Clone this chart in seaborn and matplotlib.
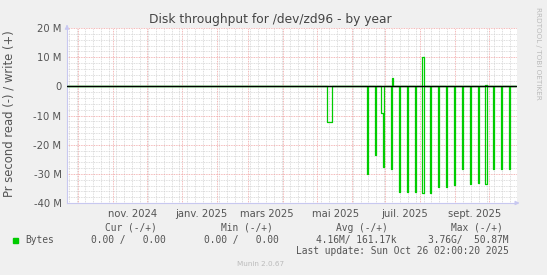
import matplotlib
matplotlib.use("Agg")
import matplotlib.pyplot as plt
import matplotlib.dates as mdates
from matplotlib.ticker import FixedLocator, MultipleLocator, NullFormatter
import seaborn as sns
import pandas as pd
import numpy as np

# ---------------- data (values in MB/s) ----------------
read_dates = ["2025-05-10", "2025-05-11", "2025-05-12", "2025-05-13", "2025-05-14",
              "2025-06-15", "2025-06-22", "2025-06-27", "2025-06-28", "2025-06-29",
              "2025-07-06", "2025-07-13", "2025-07-20", "2025-07-27", "2025-08-03",
              "2025-08-10", "2025-08-17", "2025-08-24", "2025-08-31", "2025-09-07",
              "2025-09-14", "2025-09-21", "2025-09-28", "2025-10-05", "2025-10-12",
              "2025-10-19"]
read_values = [12.3, 12.3, 12.3, 12.3, 12.3,
               30.2, 23.6, 9.3, 9.3, 27.6,
               28.5, 36.1, 36.1, 36.1, 36.5,
               36.7, 34.4, 34.4, 33.8, 28.5,
               33.4, 33.0, 33.4, 28.5, 28.5,
               28.5]
write_dates = ["2025-07-07", "2025-08-03", "2025-09-28"]
write_values = [2.7, 9.9, 0.4]

series_start = "2024-09-21"
series_end = "2025-10-25"
x_start = "2024-09-21 02:00"
x_end = "2025-10-26 02:00"

ytick_values = [-40, -30, -20, -10, 0, 10, 20]
ytick_labels = ["-40 M", "-30 M", "-20 M", "-10 M", "0", "10 M", "20 M"]
month_label_dates = ["2024-11-18", "2025-01-18", "2025-03-18", "2025-05-18",
                     "2025-07-18", "2025-09-18"]
month_labels = ["nov. 2024", "janv. 2025", "mars 2025", "mai 2025",
                "juil. 2025", "sept. 2025"]

title = "Disk throughput for /dev/zd96 - by year"
ylabel = "Pr second read (-) / write (+)"
legend_name = "Bytes"
legend_headers = ["Cur (-/+)", "Min (-/+)", "Avg (-/+)", "Max (-/+)"]
legend_values = ["0.00 /   0.00", "0.00 /   0.00", "4.16M/ 161.17k", "3.76G/  50.87M"]
last_update = "Last update: Sun Oct 26 02:00:20 2025"
footer = "Munin 2.0.67"
side_text = "RRDTOOL / TOBI OETIKER"

# ---------------- build daily frame ----------------
days = pd.date_range(series_start, series_end, freq="D")
df = pd.DataFrame({"date": days, "read": 0.0, "write": 0.0}).set_index("date")
df.loc[pd.to_datetime(read_dates), "read"] = read_values
df.loc[pd.to_datetime(write_dates), "write"] = write_values
df = df.reset_index()
df["neg_read"] = -df["read"] * 1e6
df["pos_write"] = df["write"] * 1e6

# ---------------- figure ----------------
sns.set_theme(style="white")
plt.rcParams["font.family"] = ["DejaVu Sans"]

W, H = 547, 275
fig = plt.figure(figsize=(W / 100, H / 100), dpi=100, facecolor="#F0F0F0")
ax = fig.add_axes([67 / W, 1 - 203 / H, 450 / W, 175 / H])
ax.set_facecolor("white")

green = "#00CC00"
sns.lineplot(data=df, x="date", y="neg_read", ax=ax, color=green, lw=0.9,
             drawstyle="steps-post", zorder=3)
sns.lineplot(data=df, x="date", y="pos_write", ax=ax, color=green, lw=0.9,
             drawstyle="steps-post", zorder=3)
ax.axhline(0, color="black", lw=1.0, zorder=4)

ax.set_xlim(pd.Timestamp(x_start), pd.Timestamp(x_end))
ax.set_ylim(-40e6, 20e6)

# grids
ax.xaxis.set_major_locator(mdates.MonthLocator())
ax.xaxis.set_minor_locator(mdates.WeekdayLocator(byweekday=mdates.MO))
ax.xaxis.set_major_formatter(NullFormatter())
ax.yaxis.set_major_locator(FixedLocator([v * 1e6 for v in ytick_values]))
ax.yaxis.set_minor_locator(MultipleLocator(2e6))
ax.set_yticklabels(ytick_labels)

ax.grid(which="minor", color="#D2D2D2", lw=0.6, ls=(0, (1, 1)), zorder=1)
ax.grid(which="major", color="#F0A0A0", lw=0.6, ls=(0, (1, 1)), zorder=2)
ax.set_axisbelow(True)

ax.tick_params(axis="both", which="major", length=2, width=0.6, color="#F09090",
               direction="inout", labelsize=7.2, labelcolor="#555555", pad=3)
ax.tick_params(axis="both", which="minor", length=2, width=0.6, color="#BBBBBB",
               direction="inout")
ax.tick_params(axis="x", which="major", labelbottom=False)

for s in ["top", "right"]:
    ax.spines[s].set_visible(False)
for s in ["left", "bottom"]:
    ax.spines[s].set_color("#C8C8F0")
    ax.spines[s].set_linewidth(0.8)

# axis arrows
ax.annotate("", xy=(1.012, 0), xytext=(0.99, 0), xycoords="axes fraction",
            arrowprops=dict(arrowstyle="-|>", color="#C8C8F0", lw=0.8,
                            mutation_scale=6), annotation_clip=False)
ax.annotate("", xy=(0, 1.035), xytext=(0, 0.99), xycoords="axes fraction",
            arrowprops=dict(arrowstyle="-|>", color="#C8C8F0", lw=0.8,
                            mutation_scale=6), annotation_clip=False)

# month labels
trans = ax.get_xaxis_transform()
for d, lab in zip(month_label_dates, month_labels):
    ax.text(pd.Timestamp(d), -0.035, lab, transform=trans, ha="center", va="top",
            fontsize=7.2, color="#555555")

ax.set_xlabel("")
ax.set_ylabel(ylabel, fontsize=8.4, color="#555555")
ax.yaxis.set_label_coords(-0.114, 0.51)

fig.text(270 / W, 1 - 19 / H, title, ha="center", va="center", fontsize=8.8,
         color="#444444")
fig.text(538 / W, 1 - 53 / H, side_text, ha="center", va="center", rotation=270,
         fontsize=5.2, color="#BBBBBB")

mono = "DejaVu Sans Mono"
header_centers = [131, 247, 362, 477]
for cx, h in zip(header_centers, legend_headers):
    fig.text(cx / W, 1 - 228 / H, h, ha="center", va="center", family=mono,
             fontsize=6.9, color="#555555")
value_right = [166, 279, 397, 509]
for rx, v in zip(value_right, legend_values):
    fig.text(rx / W, 1 - 240 / H, v, ha="right", va="center", family=mono,
             fontsize=6.9, color="#555555")
fig.text(25 / W, 1 - 240 / H, legend_name, ha="left", va="center", family=mono,
         fontsize=6.9, color="#555555")
fig.patches.append(plt.Rectangle((13 / W, 1 - 243 / H), 5 / W, 5 / H,
                                 transform=fig.transFigure, color=green,
                                 figure=fig))
fig.text(509 / W, 1 - 251.5 / H, last_update, ha="right", va="center", family=mono,
         fontsize=6.9, color="#555555")
fig.text(261 / W, 1 - 264 / H, footer, ha="center", va="center", fontsize=5.2,
         color="#BBBBBB")

fig.savefig("out.png", dpi=100, facecolor=fig.get_facecolor())
